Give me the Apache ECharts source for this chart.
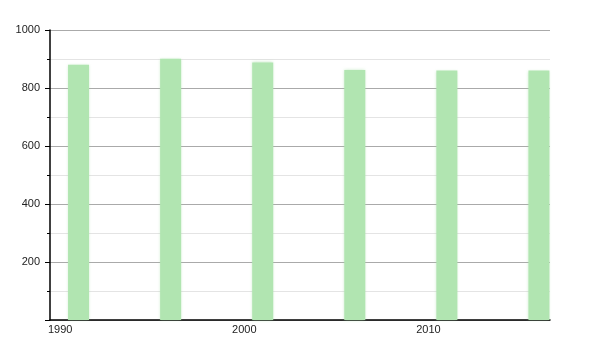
<!DOCTYPE html>
<html>
<head>
<meta charset="utf-8">
<script src="https://cdn.jsdelivr.net/npm/echarts@6/dist/echarts.min.js"></script>
<style>
html,body{margin:0;padding:0;background:#fff;}
#c{width:600px;height:350px;}
</style>
</head>
<body>
<div id="c"></div>
<script>
const years = [1991, 1996, 2001, 2006, 2011, 2016];
const values = [880, 901, 888, 862, 860, 860];
const xTickLabels = [1990, 2000, 2010];

const chart = echarts.init(document.getElementById('c'), null, {renderer: 'canvas'});
chart.setOption({
  animation: false,
  backgroundColor: '#ffffff',
  grid: {left: 50, right: 50, top: 30, bottom: 30, containLabel: false},
  xAxis: {
    type: 'value',
    min: 1989.45,
    max: 2016.6,
    axisLine: {show: true, onZero: false, lineStyle: {color: '#000', width: 1.5}},
    axisTick: {show: false},
    splitLine: {show: false},
    axisLabel: {
      customValues: xTickLabels,
      color: '#222',
      fontFamily: 'Liberation Sans, Arial, sans-serif',
      fontSize: 11,
      margin: 4,
      formatter: v => String(v)
    }
  },
  yAxis: {
    type: 'value',
    min: 0,
    max: 1000,
    interval: 200,
    axisLine: {show: true, lineStyle: {color: '#000', width: 1.5}},
    axisTick: {show: true, length: 5, lineStyle: {color: '#000'}},
    minorTick: {show: true, splitNumber: 2, length: 3, lineStyle: {color: '#000'}},
    splitLine: {show: true, lineStyle: {color: '#aaaaaa', width: 1}},
    minorSplitLine: {show: true, lineStyle: {color: '#e4e4e4', width: 1}},
    axisLabel: {
      color: '#222',
      fontFamily: 'Liberation Sans, Arial, sans-serif',
      fontSize: 11,
      margin: 10,
      formatter: v => v === 0 ? '' : String(v)
    }
  },
  series: [{
    type: 'bar',
    data: years.map((y, i) => [y, values[i]]),
    barWidth: 21,
    itemStyle: {
      color: '#b1e5b1',
      shadowColor: 'rgba(160,220,160,0.6)',
      shadowBlur: 3
    },
    clip: true
  }]
});
</script>
</body>
</html>
